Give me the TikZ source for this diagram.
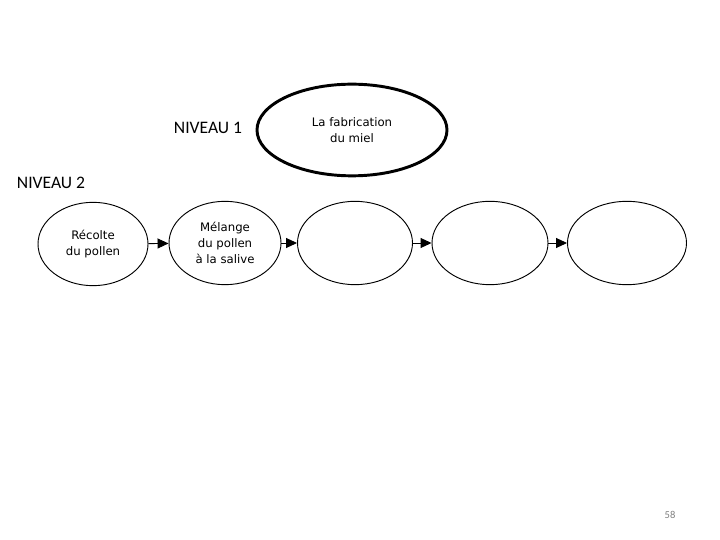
\documentclass[tikz,border=0pt]{standalone}
\usepackage{fontspec}
\setmainfont{Carlito}
\newfontfamily\bullefont{DejaVu Sans}
\usetikzlibrary{shapes.geometric,arrows.meta}

\tikzset{
  etape/.style={ellipse,draw,line width=0.8pt,inner sep=0pt,
    minimum width=3.4cm,minimum height=2.5cm,align=center,
    font=\bullefont\fontsize{10}{13.6}\selectfont},
  niveau/.style={font=\fontsize{15}{17}\selectfont},
  fleche/.style={-{Triangle[length=0.33cm,width=0.3cm]},line width=0.8pt}
}

\begin{document}
\begin{tikzpicture}[x=0.03cm,y=-0.03cm]
        \useasboundingbox (0,0) rectangle (720,540);
        \node[niveau] (n1) at (208,128) {NIVEAU 1};
        \node[niveau] (n2) at (51,183) {NIVEAU 2};
        \node[etape,line width=2.5pt,minimum width=5.7cm,minimum height=2.75cm] (miel) at (352,130) {La fabrication\\du miel};
        \node[etape,minimum width=3.3cm] (e1) at (93,244) {Récolte\\du pollen};
        \node[etape,minimum width=3.36cm] (e2) at (225,243) {Mélange\\du pollen\\à la salive};
        \node[etape,minimum width=3.45cm] (e3) at (355,243) {};
        \node[etape,minimum width=3.48cm] (e4) at (490,243) {};
        \node[etape,minimum width=3.57cm] (e5) at (627,243) {};
        \draw[fleche] (e1) to (e2);
        \draw[fleche] (e2) to (e3);
        \draw[fleche] (e3) to (e4);
        \draw[fleche] (e4) to (e5);
        \node[text=gray,font=\fontsize{9}{10}\selectfont] (page) at (670,515) {58};
    \end{tikzpicture}
\end{document}
